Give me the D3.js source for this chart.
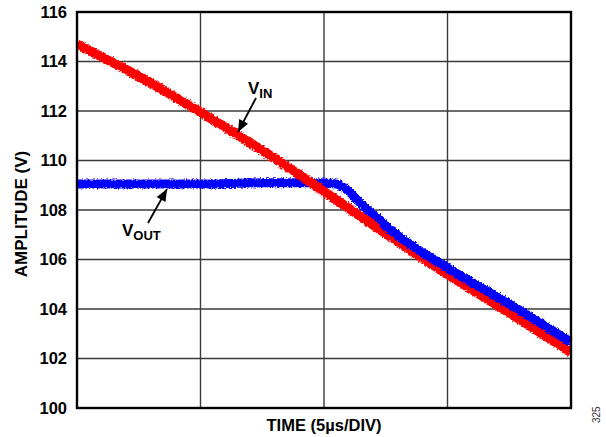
<!DOCTYPE html>
<html>
<head>
<meta charset="utf-8">
<script src="https://d3js.org/d3.v7.min.js"></script>
<style>
  body { margin: 0; background: #fff; }
  text { font-family: "Liberation Sans", Arial, sans-serif; }
</style>
</head>
<body>
<svg id="chart" width="606" height="437"></svg>
<script>
// time in divisions (5us/div), amplitude in volts
var vinTime = [0, 0.5, 1, 1.5, 2, 2.5, 3, 3.5, 4]
var vinValues = [114.7, 113.4, 111.95, 110.4, 108.75, 107.05, 105.4, 103.85, 102.25]

var voutTime = [0, 0.5, 1, 1.5, 1.9, 2.1, 2.2, 2.3, 2.4, 2.5, 3, 3.5, 4]
var voutValues = [109.05, 109.05, 109.05, 109.1, 109.1, 109.05, 108.75, 108.25, 107.8, 107.35, 105.65, 104.2, 102.65]

var yTicks = [100, 102, 104, 106, 108, 110, 112, 114, 116]
var xDivs = [0, 1, 2, 3, 4]

var svg = d3.select('#chart')
var pLeft = 77, pRight = 571, pTop = 12, pBottom = 408

var x = d3.scaleLinear().domain([0, 4]).range([pLeft, pRight])
var y = d3.scaleLinear().domain([100, 116]).range([pBottom, pTop])

// grid
svg.append('g')
    .selectAll('line')
    .data(yTicks)
    .enter().append('line')
    .attr('x1', pLeft).attr('x2', pRight)
    .attr('y1', function(d) { return y(d) })
    .attr('y2', function(d) { return y(d) })
    .attr('stroke', '#3a3a3a')
    .attr('stroke-width', 1.4)

svg.append('g')
    .selectAll('line')
    .data(xDivs)
    .enter().append('line')
    .attr('y1', pTop).attr('y2', pBottom)
    .attr('x1', function(d) { return x(d) })
    .attr('x2', function(d) { return x(d) })
    .attr('stroke', '#3a3a3a')
    .attr('stroke-width', 1.4)

// y tick labels
var yAxis = d3.axisLeft(y).tickValues(yTicks).tickSize(0).tickPadding(10)
var yg = svg.append('g')
    .attr('transform', 'translate(' + pLeft + ',0)')
    .call(yAxis)
yg.select('.domain').remove()
yg.selectAll('text')
    .attr('font-size', 16.5)
    .attr('font-weight', 'bold')
    .attr('fill', '#000')
    .attr('font-family', '"Liberation Sans", Arial, sans-serif')

// rough edge for the scope traces
var defs = svg.append('defs')
var f = defs.append('filter').attr('id', 'rough')
    .attr('x', '-5%').attr('y', '-5%').attr('width', '110%').attr('height', '110%')
f.append('feTurbulence').attr('type', 'fractalNoise').attr('baseFrequency', 0.6)
    .attr('numOctaves', 2).attr('seed', 3).attr('result', 'n')
f.append('feDisplacementMap').attr('in', 'SourceGraphic').attr('in2', 'n')
    .attr('scale', 4).attr('xChannelSelector', 'R').attr('yChannelSelector', 'G')

var line = d3.line()
    .x(function(d) { return x(d[0]) })
    .y(function(d) { return y(d[1]) })
    .curve(d3.curveMonotoneX)

var clip = defs.append('clipPath').attr('id', 'plotclip')
clip.append('rect').attr('x', pLeft).attr('y', pTop)
    .attr('width', pRight - pLeft).attr('height', pBottom - pTop)

// blue sits over red only once the two traces run together
var clip2 = defs.append('clipPath').attr('id', 'tailclip')
clip2.append('rect').attr('x', x(2.45)).attr('y', pTop)
    .attr('width', pRight - x(2.45)).attr('height', pBottom - pTop)

var traces = svg.append('g').attr('clip-path', 'url(#plotclip)')
var vout = d3.zip(voutTime, voutValues)
var vin = d3.zip(vinTime, vinValues)

function trace(g, data, color, w) {
    g.append('path')
        .datum(data)
        .attr('d', line)
        .attr('fill', 'none')
        .attr('stroke', color)
        .attr('stroke-width', w)
        .attr('filter', 'url(#rough)')
}
trace(traces, vout, '#0000ff', 9)
trace(traces, vin, '#ff0000', 9.5)
trace(traces.append('g').attr('clip-path', 'url(#tailclip)'), vout, '#0000ff', 9)

// frame
svg.append('rect')
    .attr('x', pLeft).attr('y', pTop)
    .attr('width', pRight - pLeft).attr('height', pBottom - pTop)
    .attr('fill', 'none')
    .attr('stroke', '#000')
    .attr('stroke-width', 2.4)

// axis titles
svg.append('text')
    .attr('x', x(2)).attr('y', 431)
    .attr('text-anchor', 'middle')
    .attr('font-size', 16.5)
    .attr('font-weight', 'bold')
    .text('TIME (5µs/DIV)')

svg.append('text')
    .attr('transform', 'translate(27,214) rotate(-90)')
    .attr('text-anchor', 'middle')
    .attr('font-size', 17)
    .attr('font-weight', 'bold')
    .text('AMPLITUDE (V)')

svg.append('text')
    .attr('transform', 'translate(600,423) rotate(-90)')
    .attr('text-anchor', 'start')
    .attr('font-size', 10)
    .attr('fill', '#333')
    .text('325')

// arrows + labels
defs.append('marker').attr('id', 'arr')
    .attr('viewBox', '0 0 12 10').attr('refX', 12).attr('refY', 5)
    .attr('markerWidth', 13).attr('markerHeight', 10)
    .attr('markerUnits', 'userSpaceOnUse')
    .attr('orient', 'auto')
    .append('path').attr('d', 'M0,0 L12,5 L0,10 Z').attr('fill', '#000')

function label(tx, ty, sub, ax1, ay1, ax2, ay2) {
    var t = svg.append('text').attr('x', tx).attr('y', ty)
        .attr('font-size', 17).attr('font-weight', 'bold')
    t.append('tspan').text('V')
    t.append('tspan').attr('dy', 4).attr('font-size', 13).text(sub)
    svg.append('line')
        .attr('x1', ax1).attr('y1', ay1).attr('x2', ax2).attr('y2', ay2)
        .attr('stroke', '#000').attr('stroke-width', 1.8)
        .attr('marker-end', 'url(#arr)')
}
label(248, 94, 'IN', 256, 98, 238, 132)
label(122, 236, 'OUT', 148, 223, 167, 189)
</script>
</body>
</html>
